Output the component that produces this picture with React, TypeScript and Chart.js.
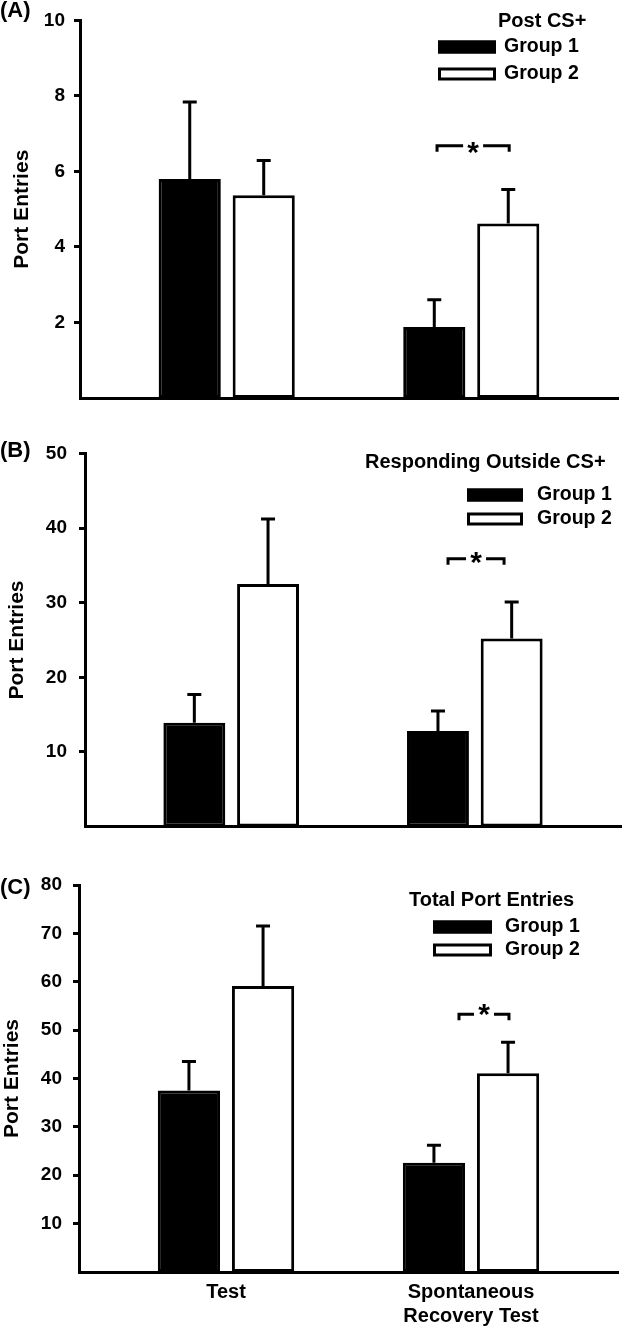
import React, { useEffect, useRef } from 'react';
import { Chart, registerables } from 'chart.js';

Chart.register(...registerables);

// ---------- data ----------
const CATEGORIES: (string | string[])[] = ['Test', ['Spontaneous', 'Recovery Test']];
const SERIES = ['Group 1', 'Group 2'];
const Y_TITLE = 'Port Entries';

// Panel A – Post CS+
const A_GROUP1 = [5.8, 1.88];
const A_GROUP1_SEM = [2.04, 0.72];
const A_GROUP2 = [5.37, 4.62];
const A_GROUP2_SEM = [0.92, 0.9];
const A_TICKS = [2, 4, 6, 8, 10];
const A_SIG_Y = 6.68;

// Panel B – Responding Outside CS+
const B_GROUP1 = [13.9, 12.8];
const B_GROUP1_SEM = [3.8, 2.7];
const B_GROUP2 = [32.5, 25.2];
const B_GROUP2_SEM = [8.7, 4.9];
const B_TICKS = [10, 20, 30, 40, 50];
const B_SIG_Y = 35.9;

// Panel C – Total Port Entries
const C_GROUP1 = [37.5, 22.6];
const C_GROUP1_SEM = [6.0, 3.6];
const C_GROUP2 = [59.1, 41.1];
const C_GROUP2_SEM = [12.4, 6.4];
const C_TICKS = [10, 20, 30, 40, 50, 60, 70, 80];
const C_SIG_Y = 53.3;

// ---------- styling ----------
const FONT = "'Liberation Sans', Arial, Helvetica, sans-serif";
const X_MIN = 0.4;
const X_MAX = 2.6;

type Panel = {
  label: string;
  title: string;
  top: number;
  height: number;
  g1: number[];
  g1Err: number[];
  g2: number[];
  g2Err: number[];
  yMax: number;
  yTicks: number[];
  sigY: number;
  sigX: [number, number];
  sigStarDy: number;
  padTop: number;
  padRight: number;
  yAxisWidth: number;
  xAxisHeight: number;
  tickPad: number;
  titlePad: number;
  showX: boolean;
  labelY: number;
  legend: { titleX: number; titleY: number; boxX: number; boxW: number; boxH: number; textX: number; rows: number[] };
};

const PANELS: Panel[] = [
  {
    label: '(A)', title: 'Post CS+', top: 0, height: 420,
    g1: A_GROUP1, g1Err: A_GROUP1_SEM, g2: A_GROUP2, g2Err: A_GROUP2_SEM,
    yMax: 10, yTicks: A_TICKS, sigY: A_SIG_Y, sigX: [1.86, 2.155], sigStarDy: 2,
    padTop: 12, padRight: 7, yAxisWidth: 80, xAxisHeight: 22, tickPad: 9, titlePad: 10, showX: false,
    labelY: 11,
    legend: { titleX: 498, titleY: 21, boxX: 438, boxW: 58, boxH: 13, textX: 504, rows: [47, 74] },
  },
  {
    label: '(B)', title: 'Responding Outside CS+', top: 430, height: 420,
    g1: B_GROUP1, g1Err: B_GROUP1_SEM, g2: B_GROUP2, g2Err: B_GROUP2_SEM,
    yMax: 50, yTicks: B_TICKS, sigY: B_SIG_Y, sigX: [1.89, 2.12], sigStarDy: -1,
    padTop: 18, padRight: 4, yAxisWidth: 85, xAxisHeight: 14, tickPad: 12, titlePad: 5, showX: false,
    labelY: 21,
    legend: { titleX: 365, titleY: 32, boxX: 467, boxW: 56, boxH: 13, textX: 537, rows: [65, 89] },
  },
  {
    label: '(C)', title: 'Total Port Entries', top: 860, height: 468,
    g1: C_GROUP1, g1Err: C_GROUP1_SEM, g2: C_GROUP2, g2Err: C_GROUP2_SEM,
    yMax: 80, yTicks: C_TICKS, sigY: C_SIG_Y, sigX: [1.951, 2.155], sigStarDy: -4,
    padTop: 25, padRight: 7, yAxisWidth: 79, xAxisHeight: 56, tickPad: 11, titlePad: 0, showX: true,
    labelY: 28,
    legend: { titleX: 409, titleY: 40, boxX: 433, boxW: 59, boxH: 13, textX: 505, rows: [67, 90] },
  },
];

// ---------- plugins ----------
const errorBarPlugin = {
  id: 'errorBars',
  afterDatasetsDraw(chart: any) {
    const ctx = chart.ctx;
    const yScale = chart.scales.y;
    chart.data.datasets.forEach((ds: any, i: number) => {
      const meta = chart.getDatasetMeta(i);
      meta.data.forEach((bar: any, j: number) => {
        const v = ds.data[j].y;
        const e = ds.errorBars[j];
        const top = yScale.getPixelForValue(v + e);
        ctx.save();
        ctx.strokeStyle = '#000';
        ctx.lineWidth = 3;
        ctx.beginPath();
        ctx.moveTo(bar.x, bar.y);
        ctx.lineTo(bar.x, top);
        ctx.moveTo(bar.x - 7, top);
        ctx.lineTo(bar.x + 7, top);
        ctx.stroke();
        ctx.restore();
      });
    });
  },
};

const decorPlugin = {
  id: 'decor',
  afterDraw(chart: any, _args: any, opts: any) {
    const p: Panel = opts.panel;
    if (!p) return;
    const ctx = chart.ctx;
    ctx.save();
    ctx.fillStyle = '#000';
    ctx.strokeStyle = '#000';

    // panel label
    ctx.font = `bold 22px ${FONT}`;
    ctx.textAlign = 'left';
    ctx.textBaseline = 'middle';
    ctx.fillText(p.label, 0, p.labelY);

    // legend
    const L = p.legend;
    ctx.font = `bold 20px ${FONT}`;
    ctx.fillText(p.title, L.titleX, L.titleY);
    ctx.font = `bold 19.5px ${FONT}`;
    chart.data.datasets.forEach((ds: any, i: number) => {
      const cy = L.rows[i];
      const y0 = cy - L.boxH / 2;
      ctx.fillStyle = ds.backgroundColor;
      ctx.fillRect(L.boxX, y0, L.boxW, L.boxH);
      ctx.lineWidth = 3;
      ctx.strokeStyle = ds.borderColor;
      ctx.strokeRect(L.boxX + 1.5, y0 + 1.5, L.boxW - 3, L.boxH - 3);
      ctx.fillStyle = '#000';
      ctx.fillText(ds.label, L.textX, cy);
    });

    // significance bracket
    const xs = chart.scales.x;
    const ys = chart.scales.y;
    const x1 = xs.getPixelForValue(p.sigX[0]);
    const x2 = xs.getPixelForValue(p.sigX[1]);
    const yy = ys.getPixelForValue(p.sigY);
    const mid = (x1 + x2) / 2;
    ctx.lineWidth = 3;
    ctx.strokeStyle = '#000';
    ctx.beginPath();
    ctx.moveTo(x1, yy + 6);
    ctx.lineTo(x1, yy);
    ctx.lineTo(mid - 10, yy);
    ctx.moveTo(mid + 10, yy);
    ctx.lineTo(x2, yy);
    ctx.lineTo(x2, yy + 6);
    ctx.stroke();
    ctx.font = `bold 30px ${FONT}`;
    ctx.textAlign = 'center';
    ctx.textBaseline = 'alphabetic';
    const m = ctx.measureText('*');
    const asc = m.actualBoundingBoxAscent;
    const desc = m.actualBoundingBoxDescent;
    ctx.fillStyle = '#000';
    ctx.fillText('*', mid, yy + p.sigStarDy - (desc - asc) / 2);
    ctx.restore();
  },
};

function buildConfig(p: Panel): any {
  const tickFont = { family: FONT, size: 19, weight: 'bold' as const };
  return {
    type: 'bar',
    data: {
      datasets: [
        {
          label: SERIES[0],
          data: p.g1.map((y, i) => ({ x: i + 1, y })),
          errorBars: p.g1Err,
          backgroundColor: '#000',
          borderColor: '#000',
          borderWidth: 3,
          borderSkipped: false,
          barPercentage: 0.84,
          categoryPercentage: 0.605,
        },
        {
          label: SERIES[1],
          data: p.g2.map((y, i) => ({ x: i + 1, y })),
          errorBars: p.g2Err,
          backgroundColor: '#fff',
          borderColor: '#000',
          borderWidth: 3,
          borderSkipped: false,
          barPercentage: 0.84,
          categoryPercentage: 0.605,
        },
      ],
    },
    options: {
      responsive: false,
      maintainAspectRatio: false,
      animation: false,
      events: [],
      layout: { padding: { top: p.padTop, right: p.padRight, left: 0, bottom: 0 } },
      plugins: {
        legend: { display: false },
        tooltip: { enabled: false },
        title: { display: false },
        decor: { panel: p },
      },
      scales: {
        x: {
          type: 'linear',
          offset: false,
          min: X_MIN,
          max: X_MAX,
          afterBuildTicks: (s: any) => {
            s.ticks = CATEGORIES.map((_, i) => ({ value: i + 1 }));
          },
          afterFit: (s: any) => {
            s.height = p.xAxisHeight;
          },
          grid: { display: false, drawTicks: false, offset: false },
          border: { display: true, color: '#000', width: 3 },
          ticks: {
            display: p.showX,
            padding: 8,
            color: '#000',
            autoSkip: false,
            maxRotation: 0,
            font: { family: FONT, size: 20, weight: 'bold' },
            callback: (v: number) => CATEGORIES[Math.round(v) - 1] ?? '',
          },
        },
        y: {
          type: 'linear',
          min: 0,
          max: p.yMax,
          afterBuildTicks: (s: any) => {
            s.ticks = p.yTicks.map((v) => ({ value: v }));
          },
          afterFit: (s: any) => {
            s.width = p.yAxisWidth;
          },
          grid: { display: true, drawOnChartArea: false, drawTicks: true, tickLength: 6, lineWidth: 3, color: '#000' },
          border: { display: true, color: '#000', width: 3 },
          ticks: { padding: p.tickPad, color: '#000', font: tickFont },
          title: {
            display: true,
            text: Y_TITLE,
            color: '#000',
            font: { family: FONT, size: 21, weight: 'bold' },
            padding: { top: p.titlePad, bottom: 0 },
          },
        },
      },
    },
    plugins: [errorBarPlugin, decorPlugin],
  };
}

function PanelChart({ p }: { p: Panel }) {
  const ref = useRef<HTMLCanvasElement | null>(null);
  useEffect(() => {
    if (!ref.current) return;
    const chart = new Chart(ref.current, buildConfig(p));
    return () => chart.destroy();
  }, [p]);
  return (
    <div style={{ position: 'absolute', left: 0, top: p.top, width: 625, height: p.height }}>
      <canvas ref={ref} width={625} height={p.height} style={{ display: 'block', width: 625, height: p.height }} />
    </div>
  );
}

export default function App() {
  return (
    <div style={{ position: 'absolute', left: 0, top: 0, width: 625, height: 1328, background: '#fff', overflow: 'hidden' }}>
      {PANELS.map((p) => (
        <PanelChart key={p.label} p={p} />
      ))}
    </div>
  );
}
